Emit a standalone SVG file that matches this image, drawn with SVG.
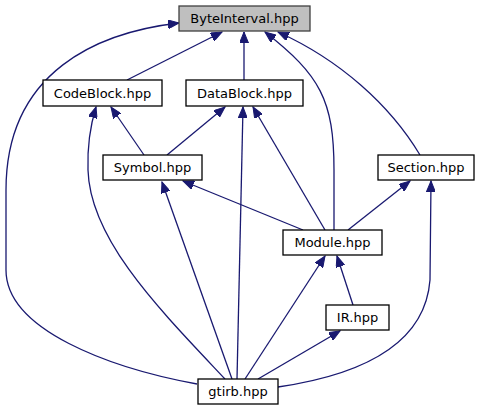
<svg xmlns="http://www.w3.org/2000/svg" width="482" height="411" viewBox="0 0 482 411">
<style>
.n rect{fill:#ffffff;stroke:#000000;stroke-width:1.3}
.n.root rect{fill:#bfbfbf;stroke:#404040}
.n text{font-family:"DejaVu Sans",sans-serif;font-size:13px;fill:#000000;text-anchor:middle}
.e path{fill:none;stroke:#191970;stroke-width:1.3}
</style>
<defs>
<marker id="ah" markerUnits="userSpaceOnUse" markerWidth="12" markerHeight="9" refX="11" refY="4.5" orient="auto">
<path d="M0,0 L11,4.5 L0,9 z" fill="#191970" stroke="#191970" stroke-width="1"/>
</marker>
</defs>
<rect width="482" height="411" fill="#ffffff"/>
<g class="e" id="edges">
<path marker-end="url(#ah)" d="M197,384 C110,368 6,330 6,270 L6,190 C6,70 100,32 179,23"/>
<path marker-end="url(#ah)" d="M127,80 L222,32"/>
<path marker-end="url(#ah)" d="M244,80 L244,32"/>
<path marker-end="url(#ah)" d="M334,230 L334,170 C334,100 320,75 265,32"/>
<path marker-end="url(#ah)" d="M420,155 C390,105 340,60 278,32"/>
<path marker-end="url(#ah)" d="M144,155 L111,107"/>
<path marker-end="url(#ah)" d="M225,379 C160,310 90,240 88,170 C87,140 92,120 96,107"/>
<path marker-end="url(#ah)" d="M167,155 L225,107"/>
<path marker-end="url(#ah)" d="M237,379 L243,107"/>
<path marker-end="url(#ah)" d="M325,230 L253,107"/>
<path marker-end="url(#ah)" d="M303,230 L183,181"/>
<path marker-end="url(#ah)" d="M232,379 L162,182"/>
<path marker-end="url(#ah)" d="M348,230 L410,181"/>
<path marker-end="url(#ah)" d="M278,387 C360,375 425,345 430,280 L431,181"/>
<path marker-end="url(#ah)" d="M245,379 L325,256"/>
<path marker-end="url(#ah)" d="M353,305 L337,256"/>
<path marker-end="url(#ah)" d="M258,379 L340,331"/>
</g>
<g class="n root" id="ByteInterval"><rect x="179" y="6" width="131" height="25"/><text x="244.5" y="23">ByteInterval.hpp</text></g>
<g class="n" id="CodeBlock"><rect x="43" y="80" width="119" height="26"/><text x="102.5" y="97.5">CodeBlock.hpp</text></g>
<g class="n" id="DataBlock"><rect x="186" y="80" width="117" height="26"/><text x="244.5" y="97.5">DataBlock.hpp</text></g>
<g class="n" id="Symbol"><rect x="103" y="155" width="99" height="25"/><text x="152.5" y="172">Symbol.hpp</text></g>
<g class="n" id="Section"><rect x="378" y="155" width="96" height="25"/><text x="426" y="172">Section.hpp</text></g>
<g class="n" id="Module"><rect x="283" y="230" width="99" height="25"/><text x="332.5" y="247">Module.hpp</text></g>
<g class="n" id="IR"><rect x="326" y="305" width="63" height="25"/><text x="357.5" y="322">IR.hpp</text></g>
<g class="n" id="gtirb"><rect x="198" y="379" width="80" height="25"/><text x="238" y="396">gtirb.hpp</text></g>
</svg>
